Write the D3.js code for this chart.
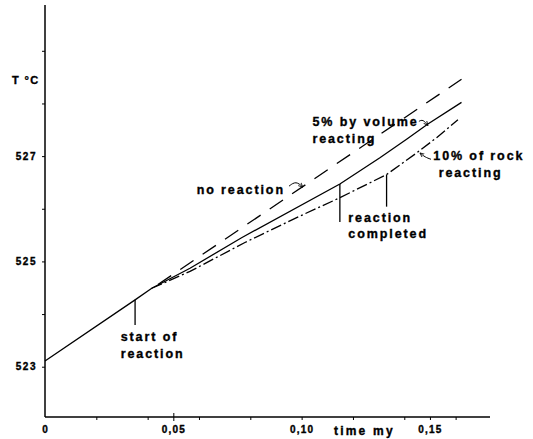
<!DOCTYPE html>
<html><head><meta charset="utf-8">
<script src="https://cdn.jsdelivr.net/npm/d3@7"></script>
<style>
html,body{margin:0;padding:0;background:#fff;}
svg{display:block;}
text{font-family:"Liberation Sans",Arial,Helvetica,sans-serif;font-weight:bold;fill:#000;stroke:#000;stroke-width:0.35px;}
</style></head>
<body>
<script>
// ---- data (time in my, temperature in °C) ----
const noReactionT = [0, 0.044, 0.1623];
const noReactionV = [523.11, 524.56, 528.46];

const vol5T = [0, 0.0351, 0.0416, 0.0565, 0.0766, 0.1149, 0.1305, 0.1409, 0.1492, 0.1623];
const vol5V = [523.11, 524.27, 524.49, 524.87, 525.45, 526.47, 526.97, 527.32, 527.61, 528.02];

const rock10T = [0.0416, 0.0565, 0.0779, 0.0993, 0.1149, 0.1331, 0.1448, 0.1526, 0.1609];
const rock10V = [524.49, 524.81, 525.36, 525.86, 526.21, 526.65, 527.06, 527.35, 527.69];

const xTicks = [0, 0.02, 0.04, 0.05, 0.06, 0.08, 0.10, 0.12, 0.14, 0.15, 0.16];
const xTickLabels = {"0":"0", "0.05":"0,05", "0.1":"0,10", "0.15":"0,15"};
const yTicks = [523, 524, 525, 526, 527, 528, 529];
const yTickLabels = [523, 525, 527];

// annotation text (data units)
const labels = [
  {t:0.0295, T:523.57, anchor:"start", lines:["start of","reaction"]},
  {t:0.0935, T:526.36, anchor:"end", lines:["no reaction"]},
  {t:0.1042, T:527.65, anchor:"start", lines:["5% by volume","reacting"]},
  {t:0.1513, T:527.00, anchor:"start", lines:["10% of rock"," reacting"]},
  {t:0.1182, T:525.84, anchor:"start", lines:["reaction","completed"]}
];
// vertical marker lines (t, from T, to T)
const markers = [
  {t:0.0351, T1:524.27, T2:523.79},
  {t:0.1149, T1:526.47, T2:525.75},
  {t:0.1331, T1:526.65, T2:526.04}
];
// curly pointer arrows
const arrows = [
  [[0.0951,526.43],[0.0978,526.53],[0.1005,526.41]],
  [[0.1457,527.66],[0.1473,527.70],[0.1492,527.58]],
  [[0.1504,526.94],[0.1481,526.98],[0.1461,527.06]]
];

const W = 533, H = 439;
const svg = d3.select("body").append("svg").attr("width", W).attr("height", H);

const x = d3.scaleLinear().domain([0, 0.1734]).range([45, 490]);
const y = d3.scaleLinear().domain([522.045, 529.87]).range([417, 5]);

svg.append("defs").append("marker")
  .attr("id","ah").attr("viewBox","0 0 10 10").attr("refX",9).attr("refY",5)
  .attr("markerWidth",5).attr("markerHeight",5).attr("orient","auto")
  .append("path").attr("d","M0,1 L9,5 L0,9").attr("fill","none").attr("stroke","#000").attr("stroke-width",1.6);

// axes
const yAxis = d3.axisLeft(y).tickValues(yTicks).tickSize(3).tickPadding(5)
  .tickFormat(d => yTickLabels.includes(d) ? String(d) : "");
const gy = svg.append("g").attr("transform", `translate(${x(0)},0)`).call(yAxis);
gy.select(".domain").attr("d", `M0,${y.range()[1]}V${y.range()[0]}`).attr("stroke-width",1.5);
gy.selectAll("text").attr("font-size",10).attr("letter-spacing",1.5)
  .attr("font-family","Liberation Sans, Arial, sans-serif").attr("font-weight","bold");

const xAxis = d3.axisBottom(x).tickValues(xTicks).tickSize(3).tickPadding(6)
  .tickFormat(d => xTickLabels[String(+d.toFixed(2))] || "");
const gx = svg.append("g").attr("transform", `translate(0,${y(522.045)})`).call(xAxis);
gx.select(".domain").attr("d", `M${x.range()[0]},0H${x.range()[1]}`).attr("stroke-width",1.5);
gx.selectAll(".tick line").filter(d => d === 0).remove();
gx.selectAll(".tick line").filter(d => Math.abs(d-0.05) < 1e-9).attr("y1",-4).attr("y2",4);
gx.selectAll("text").attr("font-size",10).attr("letter-spacing",1.2)
  .attr("font-family","Liberation Sans, Arial, sans-serif").attr("font-weight","bold");

svg.append("text").attr("x",12).attr("y",80).attr("dy","0.35em")
  .attr("font-size",11).attr("letter-spacing",1.4).text("T °C");
svg.append("text").attr("x",334).attr("y",431).attr("dy","0.35em")
  .attr("font-size",12).attr("letter-spacing",2.2).text("time my");

// curves
const line = d3.line().x(d => x(d[0])).y(d => y(d[1]));
const plot = svg.append("g").attr("fill","none").attr("stroke","#000");
plot.append("path").datum(d3.zip(vol5T, vol5V)).attr("d", line).attr("stroke-width",1.3);
plot.append("path").datum(d3.zip(noReactionT, noReactionV).slice(1)).attr("d", line)
  .attr("stroke-width",1.3).attr("stroke-dasharray","16,11");
plot.append("path").datum(d3.zip(rock10T, rock10V)).attr("d", line)
  .attr("stroke-width",1.3).attr("stroke-dasharray","11,3,2,3");

// vertical markers
svg.append("g").selectAll("line").data(markers).join("line")
  .attr("x1",d=>x(d.t)).attr("x2",d=>x(d.t)).attr("y1",d=>y(d.T1)).attr("y2",d=>y(d.T2))
  .attr("stroke","#000").attr("stroke-width",1.3);

// arrows
const curve = d3.line().x(d=>x(d[0])).y(d=>y(d[1])).curve(d3.curveBasis);
svg.append("g").selectAll("path").data(arrows).join("path")
  .attr("d", curve).attr("fill","none").attr("stroke","#000").attr("stroke-width",1)
  .attr("marker-end","url(#ah)");

// labels
labels.forEach(l => {
  const t = svg.append("text").attr("x", x(l.t)).attr("y", y(l.T))
    .attr("text-anchor", l.anchor).attr("font-size",12.5).attr("letter-spacing",1.9)
    .attr("xml:space","preserve");
  l.lines.forEach((s,i) => {
    t.append("tspan").attr("x", x(l.t)).attr("dy", i===0 ? "0.35em" : "16.8px").text(s);
  });
});
</script>
</body></html>
